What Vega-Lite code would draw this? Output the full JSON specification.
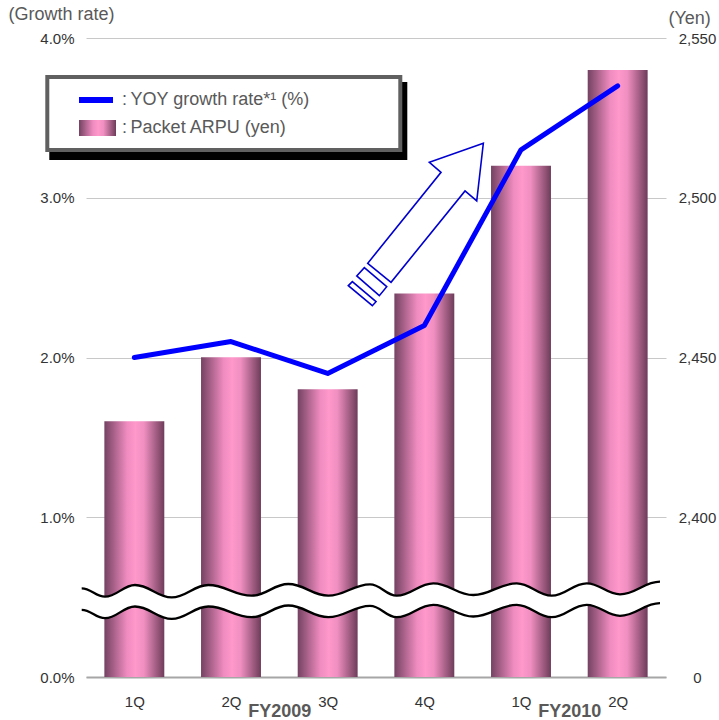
{
  "$schema": "https://vega.github.io/schema/vega-lite/v6.json",
  "width": 580,
  "height": 639,
  "autosize": {"type": "none"},
  "padding": {"left": 86, "top": 38, "right": 53, "bottom": 43},
  "background": "white",
  "config": {
    "font": "Liberation Sans",
    "view": {"stroke": null},
    "axis": {"labelFont": "Liberation Sans", "titleFont": "Liberation Sans"},
    "legend": {"labelFont": "Liberation Sans"}
  },
  "data": {"values": [
    {"quarter": "FY2009 1Q", "growth": 2.0, "arpu": 2430},
    {"quarter": "FY2009 2Q", "growth": 2.1, "arpu": 2450},
    {"quarter": "FY2009 3Q", "growth": 1.9, "arpu": 2440},
    {"quarter": "FY2009 4Q", "growth": 2.2, "arpu": 2470},
    {"quarter": "FY2010 1Q", "growth": 3.3, "arpu": 2510},
    {"quarter": "FY2010 2Q", "growth": 3.7, "arpu": 2540}
  ]},
  "layer": [
    {
      "mark": {"type": "bar", "color": {"gradient": "linear", "x1": 0, "y1": 0, "x2": 1, "y2": 0, "stops": [
        {"offset": 0, "color": "#744262"},
        {"offset": 0.38, "color": "#f08cc0"},
        {"offset": 0.52, "color": "#ff98cb"},
        {"offset": 0.66, "color": "#f08fc1"},
        {"offset": 1, "color": "#6e3c5a"}
      ]}},
      "encoding": {
        "x": {"field": "quarter", "type": "nominal", "sort": null, "scale": {"paddingInner": 0.38, "paddingOuter": 0.19}, "axis": null},
        "y": {"field": "arpu", "type": "quantitative",
          "scale": {"domain": [0, 2400, 2550], "range": [639, 479, 0], "nice": false, "zero": false},
          "axis": {"orient": "right", "values": [0, 2400, 2450, 2500, 2550], "labelExpr": "datum.value == 0 ? '0' : format(datum.value, ',')", "ticks": false, "domain": false, "grid": false,
            "labelAlign": "center", "labelPadding": 31, "labelFontSize": 15, "labelColor": "#333333",
            "title": "(Yen)", "titleAngle": 0, "titleAlign": "left", "titleBaseline": "alphabetic", "titleX": 2, "titleY": -15,
            "titleFontSize": 18, "titleFontWeight": "normal", "titleColor": "#595959"}}
      }
    },
    {
      "data": {"values": [{}]},
      "mark": {"type": "point", "shape": "M-2.943,-0.120C-2.850,-0.120 -2.803,-0.036 -2.710,-0.036C-2.590,-0.036 -2.530,-0.153 -2.410,-0.153C-2.263,-0.153 -2.190,-0.030 -2.043,-0.030C-1.897,-0.030 -1.823,-0.153 -1.677,-0.153C-1.503,-0.153 -1.417,-0.046 -1.243,-0.046C-1.097,-0.046 -1.023,-0.163 -0.877,-0.163C-0.717,-0.163 -0.637,-0.046 -0.477,-0.046C-0.310,-0.046 -0.227,-0.160 -0.060,-0.160C0.047,-0.160 0.100,-0.046 0.207,-0.046C0.353,-0.046 0.427,-0.170 0.573,-0.170C0.733,-0.170 0.813,-0.053 0.973,-0.053C1.147,-0.053 1.233,-0.170 1.407,-0.170C1.547,-0.170 1.617,-0.046 1.757,-0.046C1.897,-0.046 1.967,-0.170 2.107,-0.170C2.240,-0.170 2.307,-0.060 2.440,-0.060C2.600,-0.060 2.680,-0.186 2.840,-0.186L2.840,0.029C2.680,0.029 2.600,0.155 2.440,0.155C2.307,0.155 2.240,0.045 2.107,0.045C1.967,0.045 1.897,0.169 1.757,0.169C1.617,0.169 1.547,0.045 1.407,0.045C1.233,0.045 1.147,0.162 0.973,0.162C0.813,0.162 0.733,0.045 0.573,0.045C0.427,0.045 0.353,0.169 0.207,0.169C0.100,0.169 0.047,0.055 -0.060,0.055C-0.227,0.055 -0.310,0.169 -0.477,0.169C-0.637,0.169 -0.717,0.052 -0.877,0.052C-1.023,0.052 -1.097,0.169 -1.243,0.169C-1.417,0.169 -1.503,0.062 -1.677,0.062C-1.823,0.062 -1.897,0.185 -2.043,0.185C-2.190,0.185 -2.263,0.062 -2.410,0.062C-2.530,0.062 -2.590,0.179 -2.710,0.179C-2.803,0.179 -2.850,0.095 -2.943,0.095Z",
        "size": 40000, "filled": true, "fill": "#ffffff", "strokeWidth": 0, "opacity": 1},
      "encoding": {
        "x": {"datum": 3.5, "type": "quantitative", "scale": {"domain": [0.5, 6.5], "nice": false, "zero": false},
          "axis": {"orient": "bottom", "values": [2.5, 5.5], "labelExpr": "datum.value < 4 ? 'FY2009' : 'FY2010'", "labelFontWeight": "bold",
            "labelFontSize": 18, "labelColor": "#595959", "labelPadding": 25, "ticks": false, "domain": false, "grid": false, "title": null,
            "labelFlush": false, "labelOverlap": false}},
        "y": {"datum": 0.48, "type": "quantitative", "scale": {"domain": [0, 4], "nice": false, "zero": false}, "axis": null}
      }
    },
    {
      "data": {"values": [{}]},
      "mark": {"type": "point", "shape": "M-2.943,-0.120C-2.850,-0.120 -2.803,-0.036 -2.710,-0.036C-2.590,-0.036 -2.530,-0.153 -2.410,-0.153C-2.263,-0.153 -2.190,-0.030 -2.043,-0.030C-1.897,-0.030 -1.823,-0.153 -1.677,-0.153C-1.503,-0.153 -1.417,-0.046 -1.243,-0.046C-1.097,-0.046 -1.023,-0.163 -0.877,-0.163C-0.717,-0.163 -0.637,-0.046 -0.477,-0.046C-0.310,-0.046 -0.227,-0.160 -0.060,-0.160C0.047,-0.160 0.100,-0.046 0.207,-0.046C0.353,-0.046 0.427,-0.170 0.573,-0.170C0.733,-0.170 0.813,-0.053 0.973,-0.053C1.147,-0.053 1.233,-0.170 1.407,-0.170C1.547,-0.170 1.617,-0.046 1.757,-0.046C1.897,-0.046 1.967,-0.170 2.107,-0.170C2.240,-0.170 2.307,-0.060 2.440,-0.060C2.600,-0.060 2.680,-0.186 2.840,-0.186M-2.943,0.095C-2.850,0.095 -2.803,0.179 -2.710,0.179C-2.590,0.179 -2.530,0.062 -2.410,0.062C-2.263,0.062 -2.190,0.185 -2.043,0.185C-1.897,0.185 -1.823,0.062 -1.677,0.062C-1.503,0.062 -1.417,0.169 -1.243,0.169C-1.097,0.169 -1.023,0.052 -0.877,0.052C-0.717,0.052 -0.637,0.169 -0.477,0.169C-0.310,0.169 -0.227,0.055 -0.060,0.055C0.047,0.055 0.100,0.169 0.207,0.169C0.353,0.169 0.427,0.045 0.573,0.045C0.733,0.045 0.813,0.162 0.973,0.162C1.147,0.162 1.233,0.045 1.407,0.045C1.547,0.045 1.617,0.169 1.757,0.169C1.897,0.169 1.967,0.045 2.107,0.045C2.240,0.045 2.307,0.155 2.440,0.155C2.600,0.155 2.680,0.029 2.840,0.029",
        "size": 40000, "filled": false, "color": "#000000", "strokeWidth": 2.3, "opacity": 1},
      "encoding": {
        "x": {"datum": 3.5, "type": "quantitative", "scale": {"domain": [0.5, 6.5], "nice": false, "zero": false}, "axis": null},
        "y": {"datum": 0.48, "type": "quantitative", "scale": {"domain": [0, 4], "nice": false, "zero": false}, "axis": null}
      }
    },
    {
      "mark": {"type": "line", "strokeWidth": 5, "strokeCap": "round", "strokeJoin": "round"},
      "encoding": {
        "x": {"field": "quarter", "type": "nominal", "sort": null, "scale": {"paddingInner": 0.38, "paddingOuter": 0.19},
          "axis": {"orient": "bottom", "title": null, "labelExpr": "split(datum.value, ' ')[1]", "labelAngle": 0, "ticks": false, "domain": true,
            "domainColor": "#a6a6a6", "domainWidth": 2, "labelPadding": 17, "labelFontSize": 15, "labelColor": "#333333", "grid": false}},
        "y": {"field": "growth", "type": "quantitative", "scale": {"domain": [0, 4], "nice": false, "zero": false},
          "axis": {"orient": "left", "values": [0, 1, 2, 3, 4], "labelExpr": "format(datum.value, '.1f') + '%'", "grid": true, "gridColor": "#c8c8c8",
            "gridWidth": 1, "ticks": false, "domain": false, "labelPadding": 12, "labelFontSize": 15, "labelColor": "#333333",
            "title": "(Growth rate)", "titleAngle": 0, "titleAlign": "left", "titleBaseline": "alphabetic", "titleX": -78, "titleY": -18.5,
            "titleFontSize": 18, "titleFontWeight": "normal", "titleColor": "#595959"}},
        "color": {"datum": ":\u2009YOY growth rate*\u00b9 (%)", "type": "nominal",
          "scale": {"domain": [":\u2009YOY growth rate*\u00b9 (%)", ":\u2009Packet ARPU (yen)"], "range": ["#0000ff", "#ff98cb"]},
          "legend": {"orient": "none", "legendX": 1.5, "legendY": 52, "title": null, "padding": 0, "symbolSize": 400,
            "labelFontSize": 18, "labelColor": "#595959", "labelOffset": 14.5, "rowPadding": 9, "labelLimit": 400,
            "zindex": 5,
            "encoding": {"symbols": {
              "shape": {"condition": {"test": "indexof(datum.value, 'Packet') >= 0", "value": "M-1.85,-0.8H1.85V0.8H-1.85Z"}, "value": "M-1.85,-0.3H1.55V0.3H-1.85Z"},
              "fill": {"condition": {"test": "indexof(datum.value, 'Packet') >= 0", "value": {"gradient": "linear", "x1": 0, "y1": 0, "x2": 1, "y2": 0, "stops": [
                {"offset": 0, "color": "#744262"}, {"offset": 0.38, "color": "#f08cc0"}, {"offset": 0.52, "color": "#ff98cb"}, {"offset": 0.66, "color": "#f08fc1"}, {"offset": 1, "color": "#6e3c5a"}]}},
                "value": "#0000ff"},
              "stroke": {"value": "transparent"},
              "strokeWidth": {"value": 0},
              "opacity": {"value": 1}
            }}}}
      }
    },
    {
      "data": {"values": [{}]},
      "mark": {"type": "point", "shape": "M0.590,-1.024L0.050,-0.834L0.167,-0.734L-0.566,0.176L-0.333,0.366L0.407,-0.547L0.524,-0.447ZM-0.676,0.303L-0.600,0.220L-0.376,0.410L-0.450,0.500ZM-0.760,0.400L-0.720,0.360L-0.483,0.560L-0.520,0.600Z",
        "size": 40000, "filled": false, "color": "#0000d0", "strokeWidth": 1.6, "opacity": 1},
      "encoding": {
        "x": {"datum": 4, "type": "quantitative", "scale": {"domain": [0.5, 6.5], "nice": false, "zero": false}, "axis": null},
        "y": {"datum": 2.7, "type": "quantitative", "scale": {"domain": [0, 4], "nice": false, "zero": false}, "axis": null}
      }
    },
    {
      "data": {"values": [{}]},
      "mark": {"type": "point", "shape": "M-1.817,-0.359H1.763V0.421H-1.817Z", "size": 40000, "filled": true, "fill": "#000000", "strokeWidth": 0, "opacity": 1},
      "encoding": {
        "x": {"datum": 2, "type": "quantitative", "scale": {"domain": [0.5, 6.5], "nice": false, "zero": false}, "axis": null},
        "y": {"datum": 3.5, "type": "quantitative", "scale": {"domain": [0, 4], "nice": false, "zero": false}, "axis": null}
      }
    },
    {
      "data": {"values": [{}]},
      "mark": {"type": "point", "shape": "M-1.837,-0.409H1.693V0.321H-1.837Z", "size": 40000, "filled": true, "fill": "#ffffff", "stroke": "#606060", "strokeWidth": 4, "opacity": 1},
      "encoding": {
        "x": {"datum": 2, "type": "quantitative", "scale": {"domain": [0.5, 6.5], "nice": false, "zero": false}, "axis": null},
        "y": {"datum": 3.5, "type": "quantitative", "scale": {"domain": [0, 4], "nice": false, "zero": false}, "axis": null}
      }
    }
  ],
  "resolve": {"scale": {"x": "independent", "y": "independent"}, "axis": {"x": "independent", "y": "independent"}}
}
